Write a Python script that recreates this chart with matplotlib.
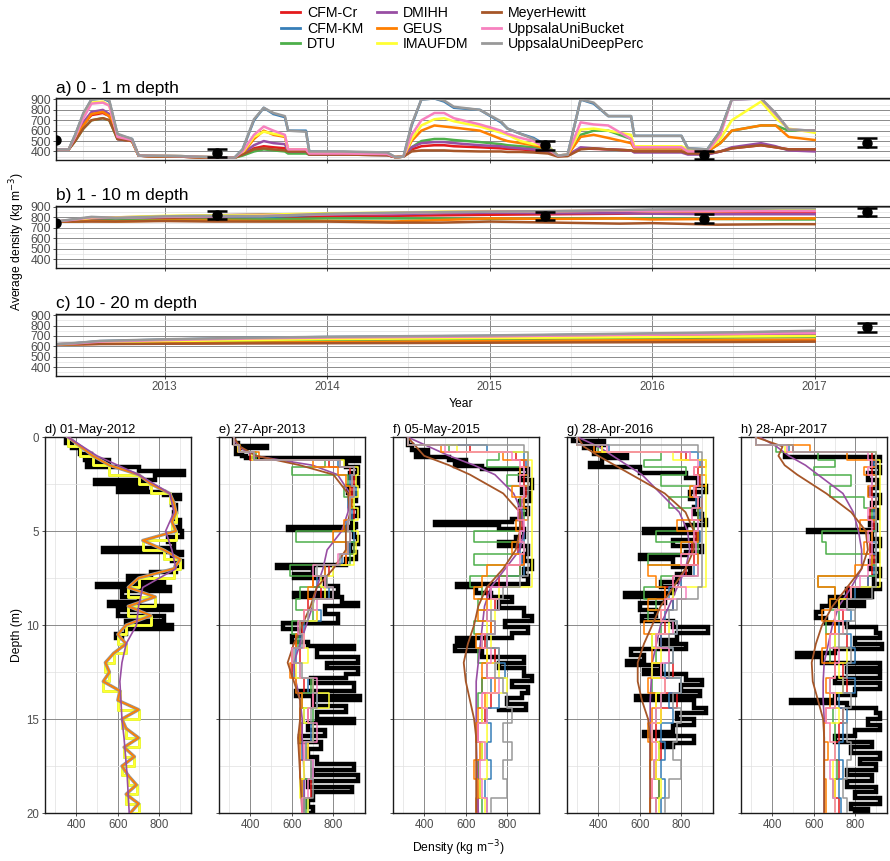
import numpy as np
import matplotlib.pyplot as plt
from matplotlib.lines import Line2D
from matplotlib.ticker import MultipleLocator

plt.rcParams['font.family'] = ['Liberation Sans', 'DejaVu Sans']

models = ['CFM-Cr', 'CFM-KM', 'DTU', 'DMIHH', 'GEUS', 'IMAUFDM',
          'MeyerHewitt', 'UppsalaUniBucket', 'UppsalaUniDeepPerc']
colors = ['#E41A1C', '#377EB8', '#4DAF4A', '#984EA3', '#FF7F00', '#FFFF33',
          '#A65628', '#F781BF', '#999999']

# ---- average density time series ----
# 0 - 1 m
t_a = [2012.33, 2012.41, 2012.45, 2012.50, 2012.55, 2012.62, 2012.66, 2012.71, 2012.80, 2012.84,
       2012.90, 2013.10, 2013.30, 2013.43, 2013.48, 2013.55, 2013.61, 2013.67, 2013.74, 2013.76,
       2013.87, 2013.89, 2014.10, 2014.37, 2014.42, 2014.47, 2014.52, 2014.58, 2014.66, 2014.72,
       2014.78, 2014.94, 2015.07, 2015.11, 2015.19, 2015.27, 2015.36, 2015.42, 2015.48, 2015.56,
       2015.64, 2015.73, 2015.87, 2015.89, 2016.18, 2016.22, 2016.34, 2016.42, 2016.49, 2016.67,
       2016.76, 2016.84, 2017.00]
a_cr = [420, 420, 520, 660, 750, 770, 740, 520, 500, 360, 355, 350, 340, 340, 370, 430, 450, 440, 430, 400,
        400, 370, 370, 365, 345, 350, 420, 450, 460, 460, 450, 440, 430, 425, 420, 410, 400, 360, 365, 430,
        425, 420, 410, 400, 400, 380, 375, 400, 430, 460, 440, 420, 420]
a_km = [420, 420, 560, 760, 900, 910, 880, 560, 520, 360, 360, 355, 345, 340, 420, 700, 820, 760, 730, 600,
        600, 400, 395, 385, 345, 350, 650, 900, 910, 880, 820, 800, 680, 620, 570, 530, 450, 360, 370, 900,
        860, 740, 740, 550, 550, 430, 420, 600, 900, 910, 760, 610, 600]
a_dtu = [420, 420, 500, 620, 700, 720, 700, 520, 500, 360, 355, 350, 340, 340, 360, 400, 420, 410, 400, 380,
         380, 370, 370, 365, 345, 350, 440, 500, 520, 520, 510, 490, 470, 460, 450, 440, 420, 360, 365, 560,
         600, 600, 520, 430, 430, 400, 400, 480, 600, 650, 650, 600, 600]
a_dmi = [420, 420, 520, 680, 780, 800, 760, 520, 500, 360, 355, 350, 340, 340, 380, 460, 500, 480, 470, 400,
         400, 370, 370, 365, 345, 350, 440, 480, 490, 490, 480, 460, 450, 440, 430, 420, 400, 360, 365, 440,
         430, 420, 410, 390, 390, 370, 370, 400, 440, 480, 450, 410, 400]
a_geus = [420, 420, 520, 650, 760, 780, 740, 530, 500, 360, 355, 350, 340, 340, 380, 520, 600, 560, 540, 420,
          420, 380, 375, 370, 345, 350, 500, 600, 650, 640, 630, 600, 520, 500, 480, 460, 420, 360, 365, 540,
          560, 530, 480, 430, 430, 400, 400, 480, 600, 650, 650, 540, 510]
a_imau = [420, 420, 540, 740, 870, 880, 840, 540, 500, 360, 360, 355, 345, 340, 390, 540, 590, 570, 550, 420,
          420, 380, 380, 375, 345, 350, 520, 650, 710, 720, 690, 640, 580, 560, 500, 470, 450, 360, 370, 610,
          620, 600, 560, 450, 450, 420, 410, 520, 700, 880, 720, 620, 580]
a_mh = [420, 420, 500, 620, 700, 720, 700, 520, 500, 360, 355, 350, 340, 340, 370, 420, 430, 420, 410, 400,
        400, 370, 370, 365, 345, 350, 400, 410, 410, 410, 405, 400, 400, 395, 395, 390, 380, 350, 355, 420,
        430, 420, 410, 400, 400, 380, 380, 400, 430, 460, 440, 420, 420]
a_bucket = [420, 420, 540, 720, 860, 870, 840, 540, 510, 360, 360, 355, 345, 340, 400, 560, 640, 600, 560, 420,
            420, 380, 380, 375, 345, 350, 560, 700, 770, 770, 720, 660, 600, 570, 530, 500, 420, 360, 370, 680,
            660, 650, 520, 440, 440, 400, 400, 560, 900, 910, 760, 610, 600]
a_deep = [420, 420, 560, 770, 900, 910, 890, 570, 520, 360, 360, 355, 345, 340, 420, 710, 820, 770, 740, 600,
          590, 400, 400, 390, 345, 350, 660, 900, 910, 890, 830, 800, 690, 620, 570, 520, 440, 360, 370, 900,
          870, 740, 740, 550, 550, 430, 420, 600, 900, 910, 770, 610, 600]

# 1 - 10 m
t_b = [2012.33, 2012.45, 2012.55, 2012.7, 2013.0, 2013.3, 2013.6, 2014.0, 2014.4, 2014.7,
       2015.0, 2015.4, 2015.8, 2016.0, 2016.4, 2016.8, 2017.0]
b_cr = [760, 765, 775, 780, 785, 790, 800, 810, 815, 820, 825, 830, 835, 840, 845, 850, 850]
b_km = [760, 780, 800, 790, 805, 810, 800, 830, 840, 845, 850, 855, 865, 870, 875, 885, 885]
b_dtu = [760, 760, 770, 770, 775, 780, 780, 790, 790, 790, 785, 790, 790, 790, 785, 780, 780]
b_dmi = [760, 770, 790, 800, 810, 820, 830, 830, 830, 840, 845, 840, 840, 835, 830, 830, 830]
b_geus = [760, 760, 765, 760, 770, 770, 765, 765, 760, 775, 790, 785, 790, 780, 785, 790, 790]
b_imau = [760, 775, 795, 800, 815, 820, 825, 840, 845, 855, 860, 860, 865, 860, 860, 865, 865]
b_mh = [760, 760, 760, 760, 765, 760, 760, 760, 750, 750, 760, 750, 740, 745, 730, 735, 735]
b_bucket = [760, 780, 800, 795, 805, 810, 815, 830, 840, 850, 855, 860, 865, 860, 860, 860, 860]
b_deep = [760, 785, 805, 795, 810, 815, 810, 835, 845, 850, 855, 860, 870, 875, 880, 890, 890]

# 10 - 20 m
t_c = [2012.33, 2012.45, 2012.6, 2013.0, 2013.5, 2014.0, 2014.5, 2015.0, 2015.5, 2016.0, 2016.5, 2017.0]
c_cr = [620, 620, 625, 630, 635, 640, 642, 645, 648, 650, 652, 655]
c_km = [620, 630, 650, 665, 680, 690, 695, 700, 710, 720, 730, 745]
c_dtu = [620, 622, 628, 640, 650, 660, 665, 670, 675, 680, 685, 690]
c_dmi = [620, 625, 640, 655, 670, 680, 690, 695, 700, 705, 710, 715]
c_geus = [620, 620, 625, 630, 635, 640, 645, 650, 655, 660, 662, 665]
c_imau = [620, 625, 635, 650, 660, 670, 675, 680, 685, 690, 695, 700]
c_mh = [620, 620, 622, 625, 628, 630, 632, 635, 638, 640, 642, 645]
c_bucket = [620, 628, 645, 660, 675, 685, 690, 695, 705, 712, 720, 730]
c_deep = [620, 632, 652, 668, 682, 692, 698, 705, 715, 725, 735, 750]

# core observations (mean and spread)
obs_t = [2012.33, 2013.32, 2015.34, 2016.32, 2017.32]
obs_a = [510, 385, 460, 365, 485]
err_a = [np.nan, 40, 45, 42, 45]
obs_b = [745, 820, 813, 785, 850]
err_b = [np.nan, 40, 40, 43, 38]
obs_c = [np.nan, np.nan, np.nan, np.nan, 785]
err_c = [np.nan, np.nan, np.nan, np.nan, 43]

# ---- density profiles ----
# layer tops used by the layered models
zg = [0, 0.4, 0.8, 1.2, 1.6, 2.0, 2.6, 3.2, 3.8, 4.4, 5.0, 5.6, 6.2, 6.8, 7.4, 8.0, 8.6, 9.2, 9.8, 10.5,
      11.2, 12.0, 12.8, 13.6, 14.4, 15.2, 16.2, 17.2, 18.2, 19.2, 20.0]
# depths for the smooth models (DMIHH, MeyerHewitt)
zs = [0, 0.5, 1, 1.5, 2, 3, 4, 5, 6, 7, 8, 9, 10, 11, 12, 13, 14, 15, 16, 18, 20]

# 01-May-2012 (initial state)
d_obs_z = [0, 0.3, 0.6, 0.9, 1.0, 1.2, 1.4, 1.6, 1.8, 2.0, 2.3, 2.5, 2.7, 2.9, 3.1, 3.3, 3.6, 4.0, 4.4, 4.8,
           5.0, 5.3, 5.6, 5.9, 6.1, 6.3, 6.6, 6.9, 7.2, 7.4, 7.6, 7.8, 8.0, 8.2, 8.5, 8.8, 9.0, 9.2, 9.5, 9.8,
           10.0, 10.2, 10.5, 10.7]
d_obs = [350, 380, 420, 470, 440, 560, 450, 700, 920, 780, 490, 740, 600, 820, 900, 860, 880, 870, 900, 880,
         910, 840, 870, 530, 910, 860, 910, 880, 760, 650, 820, 500, 850, 620, 700, 560, 860, 600, 820, 640,
         860, 640, 590, 620]
d_init_z = [0, 0.5, 1, 1.5, 2, 2.5, 3, 3.5, 4, 4.5, 5, 5.5, 6, 6.5, 7, 7.5, 8, 8.5, 9, 9.5,
            10, 10.5, 11, 11.5, 12, 12.5, 13, 13.5, 14, 14.5, 15, 15.5, 16, 16.5, 17, 17.5, 18, 18.5, 19, 19.5, 20]
d_init = [360, 420, 480, 560, 700, 760, 850, 870, 880, 860, 880, 720, 820, 900, 870, 700, 650, 780, 650, 760,
          640, 600, 640, 580, 540, 560, 530, 610, 600, 700, 620, 640, 700, 630, 680, 620, 650, 690, 640, 700, 660]
d_dmi = [360, 430, 500, 600, 700, 850, 870, 830, 860, 880, 720, 700, 690, 640, 620, 610, 615, 620, 630, 645, 655]

# 27-Apr-2013
e_obs_z = [0, 0.3, 0.5, 0.6, 0.9, 1.0, 1.1, 1.3, 1.6, 1.9, 2.2, 2.6, 3.0, 3.4, 3.8, 4.2, 4.6, 4.8, 4.95, 5.3,
           5.7, 6.1, 6.5, 6.8, 6.95, 7.3, 7.5, 7.9, 8.3, 8.5, 8.85, 9.0, 9.4, 9.9, 10.2, 10.6, 10.9, 11.1, 11.3, 11.7,
           12.0, 12.3, 12.6, 12.8, 13.1, 13.5, 13.8, 14.0, 14.3, 14.6, 15.0, 15.2, 15.6, 15.9, 16.2, 16.6, 17.0, 17.4,
           17.7, 18.0, 18.3, 18.6, 18.9, 19.3, 19.7, 20.0]
e_obs = [320, 340, 480, 330, 360, 380, 925, 860, 920, 880, 920, 870, 910, 880, 920, 890, 910, 580, 900, 920,
         880, 910, 860, 530, 700, 610, 760, 820, 610, 840, 920, 760, 820, 560, 640, 600, 680, 900, 720, 920,
         770, 920, 860, 690, 900, 620, 930, 700, 860, 720, 900, 680, 760, 640, 740, 680, 720, 900,
         700, 920, 680, 890, 700, 680, 700, 690]
e_cr = [320, 340, 400, 780, 880, 900, 890, 880, 900, 870, 880, 900, 860, 780, 700, 740, 680, 720, 650, 620,
        640, 600, 660, 700, 680, 650, 680, 640, 690, 660, 660]
e_km = [320, 345, 420, 820, 900, 880, 910, 870, 890, 860, 900, 880, 840, 760, 720, 780, 700, 740, 660, 640,
        620, 610, 680, 720, 660, 690, 650, 700, 660, 680, 680]
e_dtu = [320, 350, 430, 760, 600, 870, 850, 900, 880, 900, 620, 900, 880, 590, 760, 640, 620, 700, 600, 630,
         600, 640, 690, 650, 700, 640, 670, 690, 650, 670, 670]
e_geus = [320, 350, 440, 700, 820, 860, 880, 890, 880, 850, 800, 860, 860, 760, 700, 680, 700, 660, 640, 620,
          600, 590, 620, 650, 640, 640, 640, 640, 650, 650, 650]
e_imau = [320, 340, 410, 850, 920, 910, 920, 900, 920, 900, 920, 910, 900, 800, 740, 760, 700, 720, 640, 660,
          680, 620, 700, 780, 660, 700, 680, 660, 640, 680, 680]
e_bucket = [320, 345, 420, 830, 900, 890, 900, 880, 880, 870, 880, 870, 820, 700, 760, 800, 720, 660, 630, 660,
            600, 640, 720, 700, 680, 720, 660, 700, 680, 650, 650]
e_deep = [320, 345, 420, 830, 900, 890, 900, 880, 880, 870, 880, 870, 830, 720, 770, 800, 700, 680, 640, 650,
          610, 650, 700, 720, 690, 700, 670, 690, 700, 660, 660]
e_dmi = [320, 340, 420, 700, 820, 880, 870, 840, 770, 750, 720, 700, 670, 640, 610, 620, 640, 650, 650, 660, 660]
e_mh = [320, 350, 430, 640, 800, 870, 880, 860, 860, 800, 720, 690, 650, 610, 580, 610, 640, 640, 630, 640, 650]

# 05-May-2015
f_obs_z = [0, 0.4, 0.7, 0.9, 1.05, 1.2, 1.4, 1.55, 1.7, 2.0, 2.3, 2.7, 3.0, 3.4, 3.8, 4.1, 4.35, 4.5, 4.7, 4.9,
           5.3, 5.6, 5.8, 6.2, 6.6, 7.0, 7.4, 7.8, 8.0, 8.3, 8.5, 8.8, 9.1, 9.5, 9.8, 10.1, 10.4, 10.7, 10.9, 11.1,
           11.4, 11.7, 12.0, 12.3, 12.7, 13.0, 13.3, 13.6, 13.9, 14.2, 14.5]
f_obs = [320, 340, 420, 360, 520, 600, 550, 680, 900, 860, 920, 870, 910, 860, 900, 860, 820, 450, 760, 880,
         840, 760, 900, 880, 920, 880, 900, 560, 650, 720, 820, 760, 880, 920, 790, 900, 820, 560, 640, 550,
         680, 880, 760, 880, 920, 820, 900, 870, 800, 890, 760]
f_cr = [320, 620, 840, 880, 900, 880, 890, 880, 860, 870, 860, 850, 880, 860, 760, 700, 740, 700, 720, 690,
        740, 700, 680, 720, 690, 660, 680, 660, 670, 660, 660]
f_km = [320, 700, 880, 890, 880, 900, 880, 880, 870, 860, 880, 860, 870, 880, 800, 720, 760, 700, 740, 700,
        760, 790, 720, 760, 700, 720, 700, 720, 690, 700, 700]
f_dtu = [320, 520, 760, 700, 860, 800, 880, 860, 880, 860, 640, 880, 640, 860, 620, 680, 660, 700, 640, 680,
         660, 700, 680, 660, 680, 650, 680, 660, 670, 680, 680]
f_geus = [320, 480, 780, 900, 860, 900, 820, 880, 900, 840, 860, 820, 880, 700, 680, 640, 700, 660, 720, 650,
          700, 680, 740, 690, 660, 650, 670, 640, 660, 650, 650]
f_imau = [320, 560, 900, 920, 920, 920, 920, 920, 920, 920, 920, 920, 920, 920, 920, 760, 720, 740, 700, 720,
          700, 760, 800, 700, 680, 700, 680, 700, 670, 690, 690]
f_bucket = [320, 500, 820, 860, 880, 860, 880, 870, 850, 880, 860, 880, 860, 800, 800, 720, 760, 700, 740, 680,
            720, 700, 760, 680, 700, 660, 690, 670, 680, 700, 700]
f_deep = [320, 880, 900, 900, 900, 900, 900, 900, 900, 900, 900, 900, 900, 900, 860, 780, 760, 720, 740, 700,
          760, 740, 780, 800, 820, 780, 820, 780, 800, 720, 720]
f_dmi = [320, 420, 520, 640, 740, 830, 870, 880, 860, 790, 720, 690, 680, 670, 660, 650, 650, 650, 650, 655, 660]
f_mh = [320, 360, 400, 520, 620, 780, 860, 860, 840, 780, 700, 660, 640, 610, 590, 600, 620, 640, 650, 650, 650]

# 28-Apr-2016
g_obs_z = [0, 0.2, 0.4, 0.6, 0.9, 1.1, 1.4, 1.6, 1.9, 2.2, 2.6, 2.9, 3.3, 3.7, 4.1, 4.4, 4.7, 4.9, 5.1, 5.5,
           5.8, 6.1, 6.3, 6.5, 6.9, 7.3, 7.7, 8.0, 8.3, 8.5, 8.85, 9.2, 9.5, 9.8, 10.1, 10.4, 10.8, 11.0, 11.3, 11.6,
           11.9, 12.1, 12.4, 12.6, 12.9, 13.2, 13.5, 13.8, 14.0, 14.4, 14.7, 15.0, 15.3, 15.7, 15.9, 16.3, 16.5]
g_obs = [280, 430, 330, 380, 540, 420, 360, 600, 820, 880, 920, 840, 880, 860, 900, 920, 820, 620, 880, 760,
         900, 820, 600, 760, 840, 780, 700, 760, 530, 720, 600, 680, 610, 760, 930, 780, 700, 820, 560, 620,
         540, 700, 620, 820, 900, 800, 890, 580, 860, 920, 780, 860, 760, 620, 860, 700, 760]
g_cr = [300, 420, 820, 900, 880, 890, 870, 900, 880, 860, 870, 850, 860, 820, 760, 720, 760, 700, 720, 700,
        740, 760, 720, 780, 700, 680, 700, 680, 690, 680, 680]
g_km = [300, 450, 880, 890, 900, 880, 900, 870, 890, 880, 890, 870, 880, 860, 800, 740, 760, 720, 780, 700,
        760, 720, 800, 740, 760, 700, 720, 700, 720, 700, 700]
g_dtu = [300, 400, 700, 620, 820, 700, 860, 740, 880, 860, 680, 880, 640, 880, 700, 620, 680, 640, 700, 660,
         680, 700, 660, 700, 680, 660, 690, 670, 690, 680, 680]
g_geus = [300, 380, 800, 920, 860, 920, 840, 880, 900, 780, 880, 800, 880, 640, 680, 720, 640, 700, 620, 680,
          660, 700, 640, 680, 660, 640, 660, 650, 660, 650, 650]
g_imau = [300, 420, 760, 920, 920, 920, 920, 920, 920, 920, 920, 920, 920, 920, 920, 760, 720, 700, 740, 660,
          700, 660, 720, 680, 700, 660, 690, 680, 700, 690, 690]
g_bucket = [300, 440, 840, 880, 860, 880, 860, 880, 850, 880, 860, 870, 800, 880, 760, 820, 720, 700, 760, 680,
            740, 700, 720, 700, 680, 660, 680, 670, 660, 680, 680]
g_deep = [300, 880, 900, 900, 900, 900, 900, 900, 900, 900, 900, 900, 900, 900, 900, 880, 780, 740, 780, 740,
          760, 740, 800, 760, 800, 780, 760, 800, 740, 720, 720]
g_dmi = [300, 400, 470, 540, 610, 700, 790, 830, 840, 820, 780, 740, 700, 680, 660, 655, 650, 650, 650, 650, 650]
g_mh = [300, 330, 400, 480, 560, 720, 820, 860, 860, 820, 760, 700, 660, 620, 590, 590, 610, 640, 650, 650, 650]

# 28-Apr-2017
h_obs_z = [0.9, 1.05, 1.3, 1.6, 1.9, 2.3, 2.7, 3.1, 3.5, 3.9, 4.3, 4.7, 4.95, 5.05, 5.4, 5.8, 6.2, 6.6, 7.0, 7.4,
           7.8, 8.1, 8.3, 8.5, 8.8, 9.0, 9.3, 9.6, 9.9, 10.1, 10.4, 10.7, 11.0, 11.3, 11.5, 11.7, 12.0, 12.3, 12.5, 12.8,
           13.1, 13.4, 13.7, 14.0, 14.15, 14.4, 14.7, 15.0, 15.3, 15.6, 15.9, 16.2, 16.5, 16.8, 17.1, 17.4, 17.7, 18.0,
           18.3, 18.6, 18.9, 19.2, 19.5, 19.8, 20.0]
h_obs = [460, 920, 880, 920, 860, 910, 870, 920, 880, 910, 870, 900, 570, 880, 920, 880, 910, 870, 920, 890,
         920, 760, 880, 680, 840, 640, 610, 660, 760, 900, 920, 800, 930, 700, 520, 640, 920, 760, 920, 700,
         920, 800, 700, 490, 760, 900, 920, 860, 920, 800, 700, 880, 780, 920, 820, 900, 760, 880,
         760, 900, 800, 920, 780, 860, 800]
h_cr = [320, 500, 880, 900, 880, 900, 880, 900, 870, 890, 880, 870, 890, 880, 860, 760, 720, 740, 700, 760,
        700, 740, 760, 700, 740, 720, 700, 720, 700, 720, 720]
h_km = [320, 480, 900, 890, 900, 880, 900, 880, 890, 900, 880, 900, 880, 890, 860, 800, 760, 780, 720, 780,
        800, 760, 800, 720, 760, 740, 720, 740, 720, 730, 730]
h_dtu = [320, 420, 620, 700, 600, 780, 680, 840, 880, 900, 640, 660, 880, 900, 620, 700, 680, 720, 660, 700,
         680, 700, 680, 700, 690, 700, 700, 710, 690, 700, 700]
h_geus = [320, 580, 760, 900, 840, 900, 860, 880, 900, 820, 880, 840, 880, 800, 620, 700, 680, 640, 700, 660,
          640, 700, 660, 680, 660, 650, 670, 650, 660, 660, 660]
h_imau = [320, 460, 900, 920, 920, 920, 920, 920, 920, 920, 920, 920, 920, 920, 920, 780, 720, 700, 740, 700,
          760, 720, 740, 700, 720, 680, 700, 690, 700, 700, 700]
h_bucket = [320, 470, 860, 880, 860, 880, 870, 880, 860, 880, 860, 880, 870, 860, 820, 780, 760, 700, 740, 680,
            720, 700, 680, 700, 660, 680, 700, 680, 690, 700, 700]
h_deep = [320, 500, 900, 900, 900, 900, 900, 900, 900, 900, 900, 900, 900, 900, 900, 880, 760, 800, 760, 720,
          780, 760, 740, 780, 740, 760, 780, 760, 740, 760, 760]
h_dmi = [340, 420, 480, 560, 620, 740, 790, 815, 830, 830, 780, 720, 690, 670, 650, 645, 645, 650, 650, 650, 650]
h_mh = [320, 450, 430, 460, 520, 660, 780, 850, 860, 830, 760, 690, 640, 610, 590, 595, 620, 645, 650, 650, 650]


def style_axes(ax):
    for s in ax.spines.values():
        s.set_color('#1a1a1a')
        s.set_linewidth(1.0)
    ax.grid(which='major', color='#8a8a8a', lw=0.7)
    ax.grid(which='minor', color='#e0e0e0', lw=0.5)
    ax.set_axisbelow(True)
    ax.tick_params(which='major', length=2.5, width=0.6, color='#333333',
                   labelsize=8.3, labelcolor='#4d4d4d', pad=1.5)
    ax.tick_params(which='minor', length=0)


# top row: time series of mean density over a depth range
def series_panel(ax, title, t, series, obs, err, show_years):
    style_axes(ax)
    for vals, col in zip(series, colors):
        ax.plot(t, vals, color=col, lw=1.8)
    ot = np.array(obs_t)
    ov = np.array(obs, dtype=float)
    oe = np.array(err, dtype=float)
    ok = ~np.isnan(oe)
    ax.errorbar(ot[ok], ov[ok], yerr=oe[ok], fmt='none', ecolor='black',
                elinewidth=1.8, capsize=7, capthick=1.8, zorder=5)
    ax.plot(ot, ov, 'o', color='black', ms=6.5, zorder=6)
    ax.set_xlim(2012.33, 2017.48)
    ax.set_ylim(318, 912)
    ax.set_yticks([400, 500, 600, 700, 800, 900])
    ax.yaxis.set_minor_locator(MultipleLocator(50))
    ax.tick_params(axis='y', labelsize=8.8, pad=1)
    ax.set_xticks([2013, 2014, 2015, 2016, 2017])
    ax.xaxis.set_minor_locator(MultipleLocator(0.5))
    if not show_years:
        ax.set_xticklabels([])
    ax.set_title(title, loc='left', fontsize=12.5, pad=4)


# bottom row: density profiles on one date
def profile_panel(ax, title, obs_z, obs, layered, dmi, mh, show_depth):
    style_axes(ax)
    ax.plot(obs, obs_z, color='black', lw=3.2, drawstyle='steps-pre',
            solid_joinstyle='miter', zorder=2)
    for name, col in zip(models, colors):
        if name == 'DMIHH':
            ax.plot(dmi, zs, color=col, lw=1.2, zorder=3)
        elif name == 'MeyerHewitt':
            ax.plot(mh, zs, color=col, lw=1.3, zorder=3)
        else:
            ax.plot(layered[name], zg, color=col, lw=1.1, drawstyle='steps-pre', zorder=3)
    finish_profile(ax, title, show_depth)


def finish_profile(ax, title, show_depth):
    ax.set_xlim(250, 952)
    ax.set_ylim(20, 0)
    ax.set_xticks([400, 600, 800])
    ax.xaxis.set_minor_locator(MultipleLocator(100))
    ax.set_yticks([0, 5, 10, 15, 20])
    ax.yaxis.set_minor_locator(MultipleLocator(2.5))
    if not show_depth:
        ax.set_yticklabels([])
    ax.set_title(title, loc='left', fontsize=9.2, pad=3)


fig = plt.figure(figsize=(8.9, 8.61), dpi=100)

ax_a = fig.add_axes([0.0626, 0.8142, 0.9404, 0.0717])
ax_b = fig.add_axes([0.0626, 0.6891, 0.9404, 0.0720])
ax_c = fig.add_axes([0.0626, 0.5637, 0.9404, 0.0717])

series_panel(ax_a, 'a) 0 - 1 m depth', t_a,
             [a_cr, a_km, a_dtu, a_dmi, a_geus, a_imau, a_mh, a_bucket, a_deep], obs_a, err_a, False)
series_panel(ax_b, 'b) 1 - 10 m depth', t_b,
             [b_cr, b_km, b_dtu, b_dmi, b_geus, b_imau, b_mh, b_bucket, b_deep], obs_b, err_b, False)
series_panel(ax_c, 'c) 10 - 20 m depth', t_c,
             [c_cr, c_km, c_dtu, c_dmi, c_geus, c_imau, c_mh, c_bucket, c_deep], obs_c, err_c, True)

lefts = [45, 219, 393, 567, 741]
prof_axes = [fig.add_axes([x / 890, 0.0557, 146 / 890, 0.4367]) for x in lefts]

# 2012: every model starts from the same initial profile
ax = prof_axes[0]
style_axes(ax)
ax.plot(d_obs, d_obs_z, color='black', lw=3.2, drawstyle='steps-pre',
        solid_joinstyle='miter', zorder=2)
d_order = ['CFM-Cr', 'CFM-KM', 'DTU', 'IMAUFDM', 'MeyerHewitt', 'UppsalaUniBucket',
           'UppsalaUniDeepPerc', 'GEUS', 'DMIHH']
for name in d_order:
    col = colors[models.index(name)]
    if name == 'DMIHH':
        ax.plot(d_dmi, zs, color=col, lw=1.2, zorder=3)
    elif name in ('IMAUFDM', 'DTU'):
        ax.plot(d_init, d_init_z, color=col, lw=2.0, drawstyle='steps-pre', zorder=3)
    elif name == 'UppsalaUniDeepPerc':
        ax.plot(d_init, d_init_z, color=col, lw=2.4, zorder=3)
    else:
        ax.plot(d_init, d_init_z, color=col, lw=1.2, zorder=3)
finish_profile(ax, 'd) 01-May-2012', True)

profile_panel(prof_axes[1], 'e) 27-Apr-2013', e_obs_z, e_obs,
              {'CFM-Cr': e_cr, 'CFM-KM': e_km, 'DTU': e_dtu, 'GEUS': e_geus, 'IMAUFDM': e_imau,
               'UppsalaUniBucket': e_bucket, 'UppsalaUniDeepPerc': e_deep}, e_dmi, e_mh, False)
profile_panel(prof_axes[2], 'f) 05-May-2015', f_obs_z, f_obs,
              {'CFM-Cr': f_cr, 'CFM-KM': f_km, 'DTU': f_dtu, 'GEUS': f_geus, 'IMAUFDM': f_imau,
               'UppsalaUniBucket': f_bucket, 'UppsalaUniDeepPerc': f_deep}, f_dmi, f_mh, False)
profile_panel(prof_axes[3], 'g) 28-Apr-2016', g_obs_z, g_obs,
              {'CFM-Cr': g_cr, 'CFM-KM': g_km, 'DTU': g_dtu, 'GEUS': g_geus, 'IMAUFDM': g_imau,
               'UppsalaUniBucket': g_bucket, 'UppsalaUniDeepPerc': g_deep}, g_dmi, g_mh, False)
profile_panel(prof_axes[4], 'h) 28-Apr-2017', h_obs_z, h_obs,
              {'CFM-Cr': h_cr, 'CFM-KM': h_km, 'DTU': h_dtu, 'GEUS': h_geus, 'IMAUFDM': h_imau,
               'UppsalaUniBucket': h_bucket, 'UppsalaUniDeepPerc': h_deep}, h_dmi, h_mh, False)

# axis titles shared by the panels
fig.text(17 / 890, 1 - 242 / 861, 'Average density (kg m$^{-3}$)', rotation=90,
         ha='center', va='center', fontsize=8.7)
fig.text(461 / 890, 1 - 404 / 861, 'Year', ha='center', va='center', fontsize=8.7)
fig.text(17 / 890, 1 - 635 / 861, 'Depth (m)', rotation=90, ha='center', va='center', fontsize=8.7)
fig.text(458 / 890, 1 - 848 / 861, 'Density (kg m$^{-3}$)', ha='center', va='center', fontsize=8.7)

handles = [Line2D([], [], color=c, lw=2) for c in colors]
fig.legend(handles, models, ncol=3, loc='upper center', bbox_to_anchor=(0.52, 1.008),
           frameon=False, fontsize=10.2, handlelength=1.3, columnspacing=1.0,
           labelspacing=0.12, handletextpad=0.5)

fig.savefig('out.png', dpi=100)
